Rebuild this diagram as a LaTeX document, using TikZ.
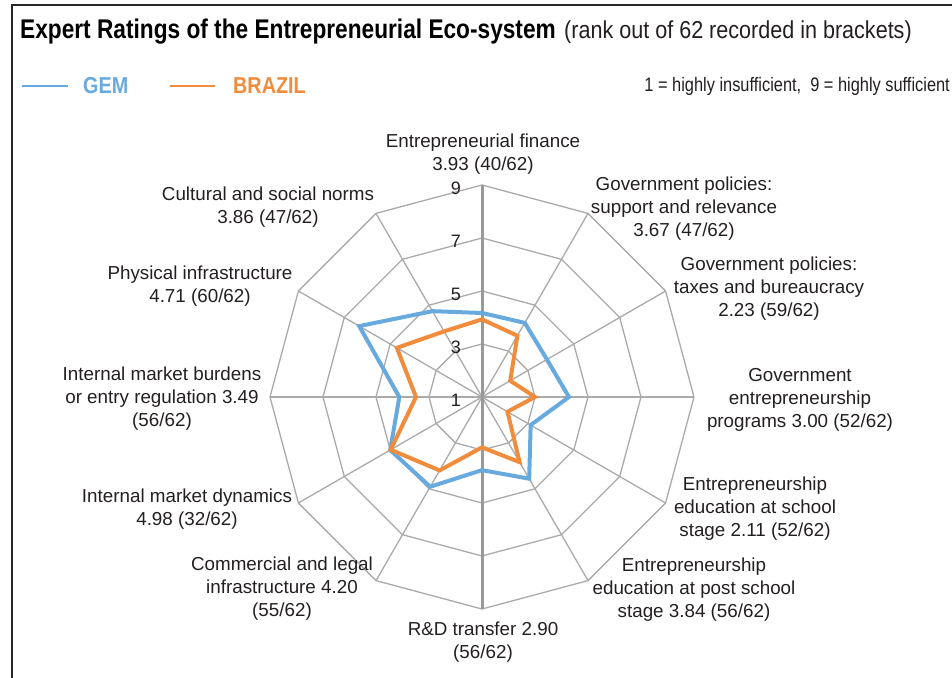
\documentclass[tikz,border=0pt]{standalone}
\usepackage{fontspec}
\setmainfont{Liberation Sans}
\newfontfamily\titlefont[FakeStretch=0.84]{Liberation Sans}
\newfontfamily\subfont[FakeStretch=0.88]{Liberation Sans}
\newfontfamily\keyfont[FakeStretch=0.86]{Liberation Sans}
\newfontfamily\notefont[FakeStretch=0.84]{Liberation Sans}
\usepackage{xcolor}
\usetikzlibrary{positioning}

\definecolor{gemblue}{RGB}{104,170,222}
\definecolor{brorange}{RGB}{240,140,60}
\definecolor{gridgray}{RGB}{170,170,170}
\definecolor{textgray}{RGB}{35,31,32}

\begin{document}
\begin{tikzpicture}[x=1pt, y=1pt,
    grid/.style = {draw=gridgray, line width=1.3pt},
    spine/.style = {draw=gridgray!90!black, line width=3pt},
    series/.style = {line width=4pt, line join=miter},
    gem/.style = {series, draw=gemblue},
    brazil/.style = {series, draw=brorange},
    axlabel/.style = {align=center, text=textgray, inner sep=0pt,
                      font=\fontsize{18.8}{23}\selectfont},
    tick/.style = {text=textgray, inner sep=0pt, font=\fontsize{18}{18}\selectfont},
    key/.style = {inner sep=0pt, font=\keyfont\bfseries\fontsize{23}{23}\selectfont}]

    \useasboundingbox (-482,-280) rectangle (470,397);

    % Frame
    \draw [line width=2pt, draw=black!85] (-470,-285) -- (-470,392) -- (475,392);

    % Heading
    \node [anchor=base west, inner sep=0pt] (title) at (-462,358)
        {\titlefont\bfseries\fontsize{27}{27}\selectfont Expert Ratings of the Entrepreneurial Eco-system};
    \node [right=8pt of title.base east, anchor=base west, inner sep=0pt, text=textgray] (subtitle)
        {\subfont\fontsize{24.5}{24.5}\selectfont(rank out of 62 recorded in brackets)};

    % Legend
    \coordinate (gemA) at (-460,311);
    \coordinate (gemB) at (-414,311);
    \coordinate (brA) at (-312,311);
    \coordinate (brB) at (-267,311);
    \draw [gemblue, line width=2.5pt] (gemA) -- (gemB);
    \draw [brorange, line width=2.5pt] (brA) -- (brB);
    \node [key, text=gemblue, right=15pt of gemB] (gemkey) {GEM};
    \node [key, text=brorange, right=18pt of brB] (brkey) {BRAZIL};
    \node [anchor=east, inner sep=0pt, text=textgray] (scale) at (468,311)
        {\notefont\fontsize{19.5}{19.5}\selectfont 1 = highly insufficient,\ \ 9 = highly sufficient};

    % Grid
    \coordinate (c) at (0,0);
    \foreach \i in {0,...,11} \coordinate (ax\i) at (90-30*\i:212);
    \foreach \r in {53,106,159,212}
        \draw [grid] (90:\r) \foreach \i in {1,...,11} {-- (90-30*\i:\r)} -- cycle;
    \foreach \i in {1,2,3,4,5,7,8,9,10,11} \draw [grid] (c) -- (ax\i);
    \draw [spine] (ax6) -- (ax0);
    \foreach \v [count=\k from 0] in {1,3,5,7,9}
        \node [tick] (tick\v) at (-26,{53*\k-3}) {\v};

    % Series
    \foreach \v [count=\i from 0] in {4.17,4.23,3.83,4.28,3.12,4.56,3.76,4.91,5.00,4.12,6.35,4.74}
        \coordinate (g\i) at (90-30*\i:{(\v-1)*26.5});
    \foreach \v [count=\i from 0] in {3.93,3.67,2.23,3.00,2.11,3.84,2.90,4.20,4.98,3.49,4.71,3.86}
        \coordinate (b\i) at (90-30*\i:{(\v-1)*26.5});
    \draw [gem] (g0) \foreach \i in {1,...,11} {-- (g\i)} -- cycle;
    \draw [brazil] (b0) \foreach \i in {1,...,11} {-- (b\i)} -- cycle;

    % Labels
    \node [axlabel] (finance) at (1,242.5) {Entrepreneurial finance\\3.93 (40/62)};
    \node [axlabel] (support) at (202,188.5) {Government policies:\\support and relevance\\3.67 (47/62)};
    \node [axlabel] (taxes) at (287,108) {Government policies:\\taxes and bureaucracy\\2.23 (59/62)};
    \node [axlabel] (programs) at (318,-3) {Government\\entrepreneurship\\programs 3.00 (52/62)};
    \node [axlabel] (school) at (273,-111.5) {Entrepreneurship\\education at school\\stage 2.11 (52/62)};
    \node [axlabel] (postschool) at (212,-193) {Entrepreneurship\\education at post school\\stage 3.84 (56/62)};
    \node [axlabel] (transfer) at (1,-245) {R\&D transfer 2.90\\(56/62)};
    \node [axlabel] (legal) at (-200,-192) {Commercial and legal\\infrastructure 4.20\\(55/62)};
    \node [axlabel] (dynamics) at (-295,-112) {Internal market dynamics\\4.98 (32/62)};
    \node [axlabel] (burdens) at (-320,-1.5) {Internal market burdens\\or entry regulation 3.49\\(56/62)};
    \node [axlabel] (physical) at (-282,110.5) {Physical infrastructure\\4.71 (60/62)};
    \node [axlabel] (norms) at (-214,189.5) {Cultural and social norms\\3.86 (47/62)};
\end{tikzpicture}
\end{document}
